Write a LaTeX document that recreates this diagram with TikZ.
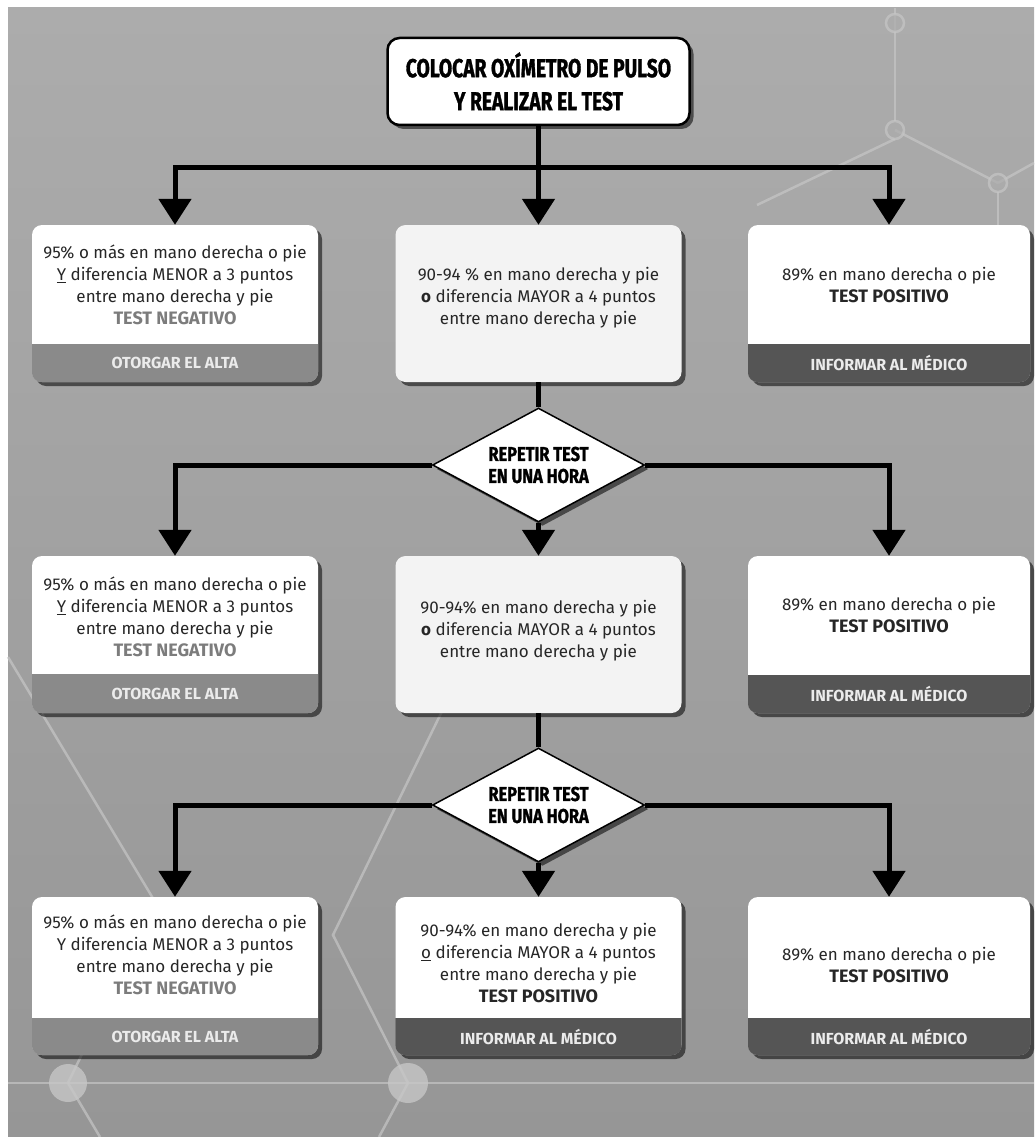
\documentclass[tikz,border=0pt]{standalone}
\usepackage{fontspec}
\setmainfont{Fira Sans}
\newfontfamily\condfont[FakeStretch=0.74,FakeBold=1.2]{Fira Sans}
\newfontfamily\diamfont[FakeStretch=0.82,FakeBold=1.2]{Fira Sans}
\newcommand\verdictfont{\bfseries\fontsize{18}{22}\selectfont}
\usetikzlibrary{arrows.meta,shapes.geometric,shadows}
\definecolor{bgtop}{HTML}{ACACAC}
\definecolor{bgbot}{HTML}{969696}
\definecolor{decor}{HTML}{C6C6C6}
\definecolor{bandlight}{HTML}{8A8A8A}
\definecolor{banddark}{HTML}{555555}
\definecolor{negtxt}{HTML}{7C7C7C}
\definecolor{midfill}{HTML}{F3F3F3}
\tikzset{
 shadowed/.style={drop shadow={shadow xshift=4pt,shadow yshift=-4pt,opacity=0.55,fill=black}},
 card/.style={fill=white,rounded corners=10pt,shadowed,inner sep=0pt},
 midcard/.style={card,fill=midfill},
 body/.style={align=center,font=\fontsize{17}{22}\selectfont,text=black!85,inner sep=0pt},
 bandtxt/.style={font=\bfseries\fontsize{16}{18}\selectfont,text=white!92!black,inner sep=0pt},
 link/.style={line width=5pt,draw=black},
 arr/.style={link,-{Triangle[width=32pt,length=26pt]}},
 startbox/.style={draw=black,line width=2.5pt,fill=white,rounded corners=12pt,shadowed,minimum width=302pt,minimum height=87pt,align=center,font=\condfont\bfseries\fontsize{26}{33}\selectfont},
 decision/.style={diamond,aspect=1.86,draw=black,line width=1.5pt,fill=white,shadowed,minimum width=212pt,minimum height=114pt,inner sep=0pt,align=center,font=\diamfont\bfseries\fontsize{20}{22}\selectfont},
 deco/.style={draw=decor,line width=2.5pt,opacity=0.7},
}
\begin{document}
\begin{tikzpicture}[x=1pt,y=-1pt]
\useasboundingbox (0,0) rectangle (1034,1137);
\fill[white] (0,0) rectangle (1034,1137);
\shade[top color=bgtop,bottom color=bgbot] (8,8) rectangle (1034,1137);
% decorative background
\draw[deco] (895,8) -- (895,121);
\draw[deco] (895,139) -- (757,205);
\draw[deco] (895,130) -- (998,183);
\draw[deco] (998,183) -- (1034,163);
\draw[deco] (998,192) -- (998,380);
\draw[deco,fill=bgtop] (895,23) circle (9);
\draw[deco,fill=bgtop] (895,130) circle (9);
\draw[deco,fill=bgtop] (998,183) circle (9);
\draw[deco] (8,657) -- (175,935);
\draw[deco] (8,1083) -- (1034,1083);
\draw[deco] (68,1083) -- (84,1050);
\draw[deco] (68,1083) -- (100,1137);
\draw[deco] (445,705) -- (333,935) -- (408,1083);
\draw[deco] (408,1083) -- (379,1137);
\fill[decor,opacity=0.8] (68,1083) circle (19);
\fill[decor,opacity=0.8] (408,1083) circle (20);

% start
\node[startbox] (start) at (538.5,81.5) {COLOCAR OXÍMETRO DE PULSO\\Y REALIZAR EL TEST};

% row 1 cards
\node[card,minimum width=286pt,minimum height=157pt] (b1l) at (175,303.5) {};
\node[midcard,minimum width=286pt,minimum height=157pt] (b1m) at (538.5,303.5) {};
\node[card,minimum width=282pt,minimum height=157pt] (b1r) at (889,303.5) {};
\begin{scope}
 \clip[rounded corners=10pt] (b1l.south west) rectangle (b1l.north east);
 \fill[bandlight] (32,344) rectangle (318,382);
\end{scope}
\begin{scope}
 \clip[rounded corners=10pt] (b1r.south west) rectangle (b1r.north east);
 \fill[banddark] (748,344) rectangle (1030,382);
\end{scope}
\node[body] (t1l) at (175,285) {95\% o más en mano derecha o pie\\\underline{Y} diferencia MENOR a 3 puntos\\entre mano derecha y pie\\{\verdictfont\color{negtxt}TEST NEGATIVO}};
\node[body] (t1m) at (538.5,298) {90-94 \% en mano derecha y pie\\{\bfseries o} diferencia MAYOR a 4 puntos\\entre mano derecha y pie};
\node[body] (t1r) at (889,285) {89\% en mano derecha o pie\\{\verdictfont TEST POSITIVO}};
\node[bandtxt] (a1l) at (175,363) {OTORGAR EL ALTA};
\node[bandtxt] (a1r) at (889,363) {INFORMAR AL MÉDICO};

% decision 1
\node[decision] (d1) at (538.5,465) {REPETIR TEST\\EN UNA HORA};

% row 2 cards
\node[card,minimum width=286pt,minimum height=157pt] (b2l) at (175,634.5) {};
\node[midcard,minimum width=286pt,minimum height=157pt] (b2m) at (538.5,634.5) {};
\node[card,minimum width=282pt,minimum height=157pt] (b2r) at (889,634.5) {};
\begin{scope}
 \clip[rounded corners=10pt] (b2l.south west) rectangle (b2l.north east);
 \fill[bandlight] (32,674) rectangle (318,713);
\end{scope}
\begin{scope}
 \clip[rounded corners=10pt] (b2r.south west) rectangle (b2r.north east);
 \fill[banddark] (748,675) rectangle (1030,713);
\end{scope}
\node[body] (t2l) at (175,617) {95\% o más en mano derecha o pie\\\underline{Y} diferencia MENOR a 3 puntos\\entre mano derecha y pie\\{\verdictfont\color{negtxt}TEST NEGATIVO}};
\node[body] (t2m) at (538.5,631) {90-94\% en mano derecha y pie\\{\bfseries o} diferencia MAYOR a 4 puntos\\entre mano derecha y pie};
\node[body] (t2r) at (889,615) {89\% en mano derecha o pie\\{\verdictfont TEST POSITIVO}};
\node[bandtxt] (a2l) at (175,693.5) {OTORGAR EL ALTA};
\node[bandtxt] (a2r) at (889,694) {INFORMAR AL MÉDICO};

% decision 2
\node[decision] (d2) at (538.5,805) {REPETIR TEST\\EN UNA HORA};

% row 3 cards
\node[card,minimum width=286pt,minimum height=158pt] (b3l) at (175,976) {};
\node[card,minimum width=286pt,minimum height=158pt] (b3m) at (538.5,976) {};
\node[card,minimum width=282pt,minimum height=158pt] (b3r) at (889,976) {};
\begin{scope}
 \clip[rounded corners=10pt] (b3l.south west) rectangle (b3l.north east);
 \fill[bandlight] (32,1018) rectangle (318,1055);
\end{scope}
\begin{scope}
 \clip[rounded corners=10pt] (b3m.south west) rectangle (b3m.north east);
 \fill[banddark] (395,1018) rectangle (682,1055);
\end{scope}
\begin{scope}
 \clip[rounded corners=10pt] (b3r.south west) rectangle (b3r.north east);
 \fill[banddark] (748,1018) rectangle (1030,1055);
\end{scope}
\node[body] (t3l) at (175,955) {95\% o más en mano derecha o pie\\Y diferencia MENOR a 3 puntos\\entre mano derecha y pie\\{\verdictfont\color{negtxt}TEST NEGATIVO}};
\node[body] (t3m) at (538.5,963) {90-94\% en mano derecha y pie\\\underline{o} diferencia MAYOR a 4 puntos\\entre mano derecha y pie\\{\verdictfont TEST POSITIVO}};
\node[body] (t3r) at (889,965) {89\% en mano derecha o pie\\{\verdictfont TEST POSITIVO}};
\node[bandtxt] (a3l) at (175,1036.5) {OTORGAR EL ALTA};
\node[bandtxt] (a3m) at (538.5,1036.5) {INFORMAR AL MÉDICO};
\node[bandtxt] (a3r) at (889,1036.5) {INFORMAR AL MÉDICO};

% connectors
\coordinate (j1) at (538.5,167);
\draw[link] (start.south) -- (j1);
\draw[arr] (j1) -| (b1l.north);
\draw[arr] (j1) -- (b1m.north);
\draw[arr] (j1) -| (b1r.north);
\draw[link] (b1m.south) -- (d1.north);
\draw[arr] (d1.west) -| (b2l.north);
\draw[arr] (d1.south) -- (b2m.north);
\draw[arr] (d1.east) -| (b2r.north);
\draw[link] (b2m.south) -- (d2.north);
\draw[arr] (d2.west) -| (b3l.north);
\draw[arr] (d2.south) -- (b3m.north);
\draw[arr] (d2.east) -| (b3r.north);
\end{tikzpicture}
\end{document}
